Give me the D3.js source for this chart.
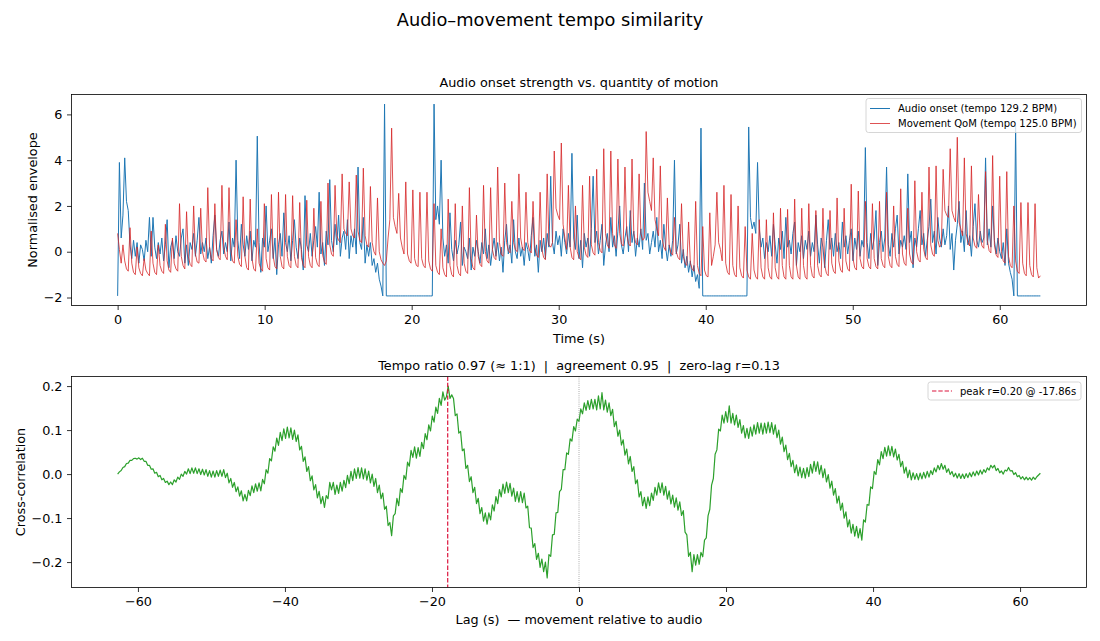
<!DOCTYPE html>
<html><head><meta charset="utf-8">
<script src="https://cdn.jsdelivr.net/npm/d3@7"></script>
<style>body{margin:0;background:#fff;} svg{display:block;font-family:"DejaVu Sans",sans-serif;}</style>
</head><body><svg id="c" width="1100" height="641"></svg>
<script>
// ---------------- data ----------------
const clipDuration = 62.76;   // seconds
const audioTempo = 129.2, movementTempo = 125.0;
const agreement = 0.95, zeroLagR = 0.13;
const peakLag = -17.86, peakR = 0.20;

const audioOnset = [
-1.93,3.9,0.6,1.6,4.1,2.2,1.8,0.3,-0.3,0.5,
-0.2,0.4,-0.5,0.3,0.1,-0.4,0.5,0.0,1.5,-0.2,
1.5,0.2,-0.3,0.4,-0.1,0.6,-0.4,0.3,1.4,-0.7,
0.2,0.5,-0.3,0.7,0.0,-0.2,0.6,1.0,-0.5,0.3,
-0.6,0.4,0.1,0.8,-0.2,0.5,1.5,-0.1,0.4,0.0,
0.6,-0.3,0.2,-0.5,0.7,1.6,0.1,-0.2,0.5,0.9,
-0.1,0.4,0.0,1.3,-0.4,0.6,0.2,4.0,0.5,-0.3,
1.2,0.3,-0.2,0.7,0.1,0.9,-0.4,0.5,0.2,5.05,
0.4,-0.9,0.6,0.2,2.0,0.0,0.5,1.0,-0.3,0.6,
-1.0,0.3,0.8,-0.2,1.7,0.4,0.0,0.7,-0.4,0.5,
1.4,0.2,-0.3,0.6,0.1,-0.8,2.45,0.3,0.0,0.8,
-0.2,0.5,1.1,0.2,2.6,-0.1,0.4,-0.6,0.9,0.3,
3.15,0.5,0.0,1.2,0.3,1.6,-0.2,0.6,0.9,0.1,
1.4,-0.3,0.7,0.2,1.0,-0.1,3.7,0.4,0.1,1.5,
-0.5,0.3,-0.2,0.4,-0.6,-0.3,-0.9,-0.5,-1.2,-1.5,
-1.93,6.45,-1.93,-1.93,-1.93,-1.93,-1.93,-1.93,-1.93,-1.93,
-1.93,-1.93,-1.93,-1.93,-1.93,-1.93,-1.93,-1.93,-1.93,-1.93,
-1.93,-1.93,-1.93,-1.93,-1.93,-1.93,-1.93,-1.93,-1.93,6.45,
1.4,2.0,1.2,4.0,0.6,-0.2,0.3,-0.5,1.7,0.1,
-0.4,0.5,-0.1,0.3,1.3,-0.6,0.2,0.0,-0.3,0.6,
-0.8,0.2,-0.2,0.5,0.0,-0.5,0.4,-0.1,1.0,-0.3,
0.3,-0.6,0.1,0.6,-0.2,0.4,-0.4,0.2,-0.9,0.5,
1.2,-0.1,0.3,-0.5,1.4,0.0,-0.3,0.6,-0.2,0.2,
-0.6,0.4,0.1,-0.4,0.7,1.5,-0.2,0.3,-0.9,0.5,
0.0,0.6,-0.3,0.8,0.2,3.3,0.4,-0.1,0.9,0.3,
0.7,-0.2,1.0,0.4,-0.1,0.8,0.2,4.3,0.6,0.1,
1.6,-0.3,0.5,-0.7,0.8,0.2,0.6,-0.2,1.0,3.3,
0.4,0.9,-0.1,0.5,1.2,-0.6,0.3,0.8,0.0,1.5,
0.2,0.7,-0.2,0.9,2.0,0.3,-0.1,0.6,1.1,0.0,
1.8,0.4,0.9,-0.2,0.6,0.2,1.0,0.1,3.0,0.5,
0.8,-0.1,0.4,0.9,0.2,1.5,0.0,0.5,-0.3,1.2,
0.2,-0.4,0.3,-0.2,0.5,4.0,-0.1,0.3,1.2,-0.5,
0.1,-0.7,-0.2,-0.9,-0.4,-1.1,-0.6,-1.3,-1.0,-1.6,
5.4,-1.93,-1.93,-1.93,-1.93,-1.93,-1.93,-1.93,-1.93,-1.93,
-1.93,-1.93,-1.93,-1.93,-1.93,-1.93,-1.93,-1.93,-1.93,-1.93,
-1.93,-1.93,-1.93,-1.93,-1.93,-1.93,-1.93,5.45,1.5,1.0,
1.3,0.8,3.9,1.0,0.2,0.6,-0.3,0.4,0.0,0.7,
-0.2,1.2,0.3,-0.5,0.6,0.1,0.9,-0.3,1.5,0.2,
0.5,-0.1,0.8,1.3,-0.6,0.4,0.0,0.7,-0.3,0.5,
0.1,0.9,-0.2,0.4,0.0,1.6,0.3,-0.5,0.6,0.2,
-0.7,0.5,1.4,0.1,0.6,-0.2,0.8,0.0,0.4,-0.3,
1.3,0.2,0.7,-0.1,0.5,1.0,-0.4,0.6,0.1,0.9,
-0.2,0.5,0.2,4.55,0.4,-0.3,0.8,0.1,0.6,1.8,
-0.6,0.4,0.9,0.0,0.6,3.7,0.3,-0.2,0.8,0.2,
1.0,1.6,-0.1,0.5,0.2,0.7,0.1,3.4,0.4,0.9,
-0.7,0.6,0.2,1.0,1.8,0.3,0.8,-0.2,0.5,1.1,
2.3,0.4,0.9,-0.1,1.5,0.6,0.2,1.0,0.3,0.7,
2.0,0.1,0.8,-0.8,0.5,1.2,2.2,0.4,0.9,0.0,
1.8,0.3,0.7,-0.2,1.1,2.1,0.5,0.2,0.9,0.4,
0.6,4.1,0.3,1.0,0.2,2.0,0.5,-0.1,0.6,0.0,
-0.3,0.4,-0.6,1.0,-0.5,-0.9,-1.2,-1.93,5.5,-1.93,
-1.93,-1.93,-1.93,-1.93,-1.93,-1.93,-1.93,-1.93,-1.93,-1.93,
-1.93,-1.93,-1.93
];

const movementQoM = [
0.8,0.1,-0.5,0.3, -0.4,-0.75,-0.85,1.05,
-0.5,-0.9,-1.0,0.2, -0.7,-0.95,-1.05,-0.3,
-0.8,-0.95,-1.05,0.9, -0.5,-0.9,-1.0,0.3,
-0.6,-0.85,-0.95,1.2, -0.4,-0.8,-0.9,0.6,
-0.5,-0.75,-0.85,2.1, -0.2,-0.6,-0.75,1.75,
-0.2,-0.55,-0.65,2.0, -0.1,-0.45,-0.5,1.9,
0.0,-0.35,-0.45,2.8, 0.2,-0.3,-0.4,2.1,
0.1,-0.25,-0.35,2.9, 0.2,-0.2,-0.35,2.8,
0.1,-0.4,-0.5,1.4, -0.2,-0.55,-0.65,2.4,
-0.2,-0.7,-0.8,2.3, -0.3,-0.75,-0.85,1.0,
-0.5,-0.75,-0.85,2.1, -0.3,-0.7,-0.8,2.5,
-0.2,-0.65,-0.75,2.6, -0.2,-0.65,-0.75,2.5,
-0.2,-0.6,-0.7,2.45, -0.2,-0.6,-0.7,2.15,
-0.25,-0.6,-0.7,2.25, -0.2,-0.6,-0.7,1.9,
-0.25,-0.55,-0.65,2.2, -0.15,-0.45,-0.55,3.0,
0.3,-0.1,-0.2,2.9, 0.7,0.5,0.4,3.4,
1.0,0.8,0.7,3.05, 1.0,0.7,0.6,3.35,
0.9,0.5,0.4,3.65, 0.7,0.3,0.2,2.85,
0.4,0.0,-0.15,2.35, 0.0,-0.35,-0.5,-0.6,
-0.4,0.6,1.4,5.4, 1.5,1.1,0.8,2.55,
0.6,0.2,-0.1,3.05, -0.1,-0.4,-0.5,2.7,
-0.3,-0.6,-0.65,2.6, -0.3,-0.6,-0.7,2.6,
-0.4,-0.75,-0.85,2.1, -0.6,-0.9,-1.0,1.0,
-0.7,-1.0,-1.1,2.3, -0.6,-1.0,-1.1,2.1,
-0.6,-0.95,-1.05,2.0, -0.5,-0.85,-0.95,2.8,
-0.3,-0.7,-0.8,1.6, -0.2,-0.55,-0.65,2.9,
0.0,-0.4,-0.5,2.8, 0.1,-0.25,-0.35,3.7,
0.4,-0.1,-0.2,3.0, 0.4,0.05,-0.05,2.2,
0.4,0.1,0.0,3.4, 0.6,0.15,0.05,2.6,
0.4,0.05,-0.05,2.2, 0.2,-0.15,-0.25,2.6,
0.1,-0.25,-0.35,3.4, 0.3,0.2,0.4,4.4,
1.9,1.6,1.4,4.75, 1.2,0.6,0.1,2.9,
0.2,-0.25,-0.35,2.0, 0.0,-0.25,-0.35,2.9,
0.2,-0.15,-0.25,3.3, 0.3,-0.05,-0.15,3.6,
0.4,0.05,-0.05,4.5, 0.8,0.3,0.15,4.4,
0.8,0.3,0.15,4.05, 0.8,0.35,0.25,3.7,
0.8,0.35,0.25,4.05, 0.8,0.4,0.3,3.4,
0.8,0.5,0.6,5.25, 2.6,2.2,1.8,4.1,
1.4,1.0,0.7,3.75, 0.6,0.2,0.05,2.35,
0.3,-0.05,-0.15,1.5, 0.0,-0.25,-0.35,2.1,
-0.2,-0.5,-0.6,1.3, -0.5,-0.75,-0.85,2.2,
-0.6,-0.95,-1.05,1.1, -0.8,-1.05,-1.1,1.7,
-0.6,-0.2,0.3,2.6, 0.4,0.1,-0.4,2.9,
-0.5,-0.9,-1.0,2.5, -0.6,-1.0,-1.1,2.0,
-0.7,-1.05,-1.15,1.1, -0.8,-1.1,-1.2,0.8,
-0.8,-1.1,-1.2,1.4, -0.7,-1.1,-1.2,1.4,
-0.7,-1.1,-1.2,1.7, -0.7,-1.1,-1.2,1.9,
-0.6,-1.1,-1.2,1.85, -0.6,-1.1,-1.2,2.3,
-0.6,-1.1,-1.2,1.9, -0.6,-1.1,-1.2,2.1,
-0.6,-1.05,-1.15,1.8, -0.6,-1.0,-1.1,1.9,
-0.6,-0.95,-1.05,1.8, -0.5,-0.85,-0.95,2.35,
-0.4,-0.8,-0.9,1.9, -0.4,-0.75,-0.85,2.95,
-0.3,-0.7,-0.8,2.65, -0.3,-0.65,-0.75,2.2,
-0.3,-0.65,-0.75,2.1, -0.3,-0.65,-0.75,2.2,
-0.3,-0.6,-0.7,2.6, -0.2,-0.6,-0.7,2.0,
-0.2,-0.55,-0.65,2.75, -0.1,-0.5,-0.6,1.9,
-0.1,-0.45,-0.55,3.1, 0.0,-0.35,-0.45,2.6,
0.1,-0.25,-0.35,3.7, 0.3,-0.1,-0.2,3.75,
0.5,0.2,0.3,3.6, 1.8,1.6,1.5,4.5,
1.8,1.5,1.3,5.0, 1.3,1.0,0.7,4.1,
0.8,0.4,0.25,3.75, 0.6,0.25,0.15,2.5,
0.6,0.25,0.15,3.5, 0.5,0.05,-0.05,4.2,
0.3,-0.15,-0.25,3.3, 0.0,-0.4,-0.5,3.5,
-0.2,-0.6,-0.7,2.0, -0.4,-0.85,-0.95,2.15,
-0.5,-0.95,-1.05,2.15, -0.6,-1.0,-1.1,2.1,
-0.7,-1.15,-1.05
];

const maxLag = 62.76;  // seconds, symmetric lag range
const crossCorr = [
0.000,0.005,0.008,0.015,0.017,0.024,0.025,0.031,0.031,0.035,
0.036,0.034,0.037,0.033,0.036,0.029,0.029,0.020,0.020,0.011,
0.012,0.002,0.004,-0.006,-0.003,-0.013,-0.010,-0.019,-0.016,-0.024,
-0.018,-0.024,-0.013,-0.018,-0.007,-0.012,0.000,-0.005,0.006,0.000,
0.012,0.001,0.014,0.002,0.014,0.001,0.012,-0.001,0.011,-0.002,
0.010,-0.005,0.008,-0.007,0.007,-0.007,0.008,-0.005,0.009,-0.005,
0.010,-0.008,0.002,-0.020,-0.010,-0.030,-0.019,-0.040,-0.029,-0.050,
-0.038,-0.061,-0.046,-0.061,-0.037,-0.049,-0.027,-0.042,-0.022,-0.039,
-0.020,-0.038,-0.012,-0.022,0.010,0.002,0.035,0.030,0.062,0.052,
0.082,0.065,0.095,0.076,0.103,0.081,0.107,0.082,0.105,0.079,
0.100,0.074,0.089,0.055,0.063,0.029,0.039,0.006,0.017,-0.015,
-0.004,-0.036,-0.024,-0.054,-0.039,-0.067,-0.051,-0.076,-0.049,-0.056,
-0.019,-0.036,-0.019,-0.046,-0.025,-0.044,-0.019,-0.039,-0.014,-0.031,
-0.003,-0.022,0.006,-0.015,0.012,-0.010,0.015,-0.009,0.014,-0.011,
0.012,-0.014,0.007,-0.020,0.000,-0.028,-0.010,-0.042,-0.025,-0.056,
-0.043,-0.080,-0.073,-0.117,-0.110,-0.140,-0.095,-0.090,-0.055,-0.072,
-0.033,-0.042,-0.003,-0.012,0.027,0.018,0.054,0.038,0.062,0.036,
0.060,0.040,0.072,0.058,0.092,0.078,0.112,0.098,0.132,0.118,
0.152,0.138,0.172,0.156,0.187,0.168,0.176,0.200,0.172,0.180,
0.172,0.133,0.137,0.093,0.097,0.053,0.057,0.013,0.020,-0.017,
-0.006,-0.042,-0.030,-0.067,-0.055,-0.090,-0.076,-0.107,-0.088,-0.114,
-0.088,-0.104,-0.070,-0.084,-0.051,-0.067,-0.035,-0.052,-0.023,-0.044,
-0.018,-0.042,-0.021,-0.050,-0.032,-0.062,-0.040,-0.064,-0.040,-0.065,
-0.043,-0.077,-0.073,-0.122,-0.123,-0.167,-0.158,-0.194,-0.180,-0.212,
-0.193,-0.222,-0.200,-0.236,-0.183,-0.187,-0.138,-0.137,-0.088,-0.087,
-0.040,-0.035,0.010,0.010,0.048,0.045,0.080,0.075,0.108,0.098,
0.125,0.120,0.148,0.137,0.162,0.145,0.167,0.147,0.170,0.148,
0.170,0.146,0.178,0.148,0.185,0.146,0.168,0.141,0.162,0.133,
0.147,0.108,0.120,0.086,0.100,0.066,0.078,0.043,0.057,0.023,
0.040,0.006,0.017,-0.022,-0.013,-0.052,-0.040,-0.072,-0.053,-0.078,
-0.052,-0.072,-0.043,-0.060,-0.030,-0.048,-0.020,-0.042,-0.020,-0.048,
-0.028,-0.057,-0.038,-0.068,-0.048,-0.075,-0.054,-0.082,-0.063,-0.094,
-0.083,-0.132,-0.138,-0.187,-0.178,-0.222,-0.183,-0.207,-0.183,-0.205,
-0.178,-0.188,-0.150,-0.145,-0.095,-0.080,-0.025,-0.010,0.045,0.055,
0.102,0.098,0.134,0.116,0.142,0.118,0.155,0.116,0.138,0.112,
0.134,0.106,0.124,0.093,0.110,0.082,0.104,0.081,0.107,0.086,
0.112,0.091,0.117,0.093,0.116,0.091,0.116,0.093,0.118,0.094,
0.117,0.091,0.112,0.083,0.100,0.068,0.084,0.051,0.066,0.033,
0.047,0.017,0.031,0.003,0.021,-0.004,0.016,-0.008,0.013,-0.009,
0.015,-0.006,0.022,0.002,0.029,0.006,0.028,0.000,0.020,-0.008,
0.012,-0.018,-0.001,-0.032,-0.016,-0.048,-0.033,-0.066,-0.050,-0.082,
-0.066,-0.100,-0.086,-0.120,-0.104,-0.134,-0.114,-0.141,-0.119,-0.145,
-0.124,-0.150,-0.104,-0.109,-0.069,-0.071,-0.029,-0.033,0.006,-0.001,
0.033,0.021,0.051,0.035,0.061,0.041,0.064,0.042,0.063,0.039,
0.057,0.032,0.045,0.017,0.029,0.002,0.016,-0.008,0.009,-0.013,
0.003,-0.012,0.001,-0.013,0.002,-0.011,0.004,-0.009,0.006,-0.007,
0.008,-0.001,0.014,0.005,0.020,0.010,0.024,0.011,0.020,0.004,
0.012,-0.001,0.006,-0.006,0.002,-0.009,0.001,-0.010,0.000,-0.010,
0.001,-0.008,0.003,-0.006,0.005,-0.004,0.007,-0.002,0.009,0.000,
0.010,0.004,0.014,0.009,0.020,0.014,0.020,0.008,0.013,0.003,
0.007,0.000,0.009,0.007,0.015,0.007,0.008,-0.001,0.003,-0.006,
-0.003,-0.011,-0.006,-0.013,-0.007,-0.013,-0.008,-0.014,-0.007,-0.012,
-0.006,-0.002,0.002
];

const timeTicks = [0,10,20,30,40,50,60];
const envTicks = [-2,0,2,4,6];
const lagTicks = [-60,-40,-20,0,20,40,60];
const corrTicks = [-0.2,-0.1,0.0,0.1,0.2];

// ---------------- drawing ----------------
const svg = d3.select('#c');
const FONT = '"DejaVu Sans", sans-serif';
const FS = 12.8;
const L = 71.5, R = 1086.5;
const P1 = {t:94.5, b:305.5}, P2 = {t:376.5, b:587.5};
const pad = (lo, hi) => { const p = (hi - lo) * 0.05; return [lo - p, hi + p]; };

const tStep = clipDuration / (audioOnset.length - 1);
const audioPts = audioOnset.map((v, i) => [i * tStep, v]);
const qStep = clipDuration / (movementQoM.length - 1);
const qomPts = movementQoM.map((v, i) => [i * qStep, v]);
const lStep = 2 * maxLag / (crossCorr.length - 1);
const corrPts = crossCorr.map((v, i) => [-maxLag + i * lStep, v]);

const allEnv = audioOnset.concat(movementQoM);
const x1 = d3.scaleLinear().domain(pad(0, clipDuration)).range([L, R]);
const y1 = d3.scaleLinear().domain(pad(d3.min(allEnv), d3.max(allEnv))).range([P1.b, P1.t]);
const x2 = d3.scaleLinear().domain(pad(-maxLag, maxLag)).range([L, R]);
const y2 = d3.scaleLinear().domain(pad(d3.min(crossCorr), d3.max(crossCorr))).range([P2.b, P2.t]);

const defs = svg.append('defs');
[['clip1', P1], ['clip2', P2]].forEach(([id, P]) => {
  defs.append('clipPath').attr('id', id).append('rect')
    .attr('x', L).attr('y', P.t).attr('width', R - L).attr('height', P.b - P.t);
});

function axes(x, y, xt, yt, xf, yf, P) {
  const gx = svg.append('g').attr('transform', `translate(0,${P.b})`)
    .call(d3.axisBottom(x).tickValues(xt).tickFormat(xf).tickSize(4.5).tickPadding(4.5).tickSizeOuter(0));
  const gy = svg.append('g').attr('transform', `translate(${L},0)`)
    .call(d3.axisLeft(y).tickValues(yt).tickFormat(yf).tickSize(4.5).tickPadding(4.5).tickSizeOuter(0));
  [gx, gy].forEach(g => {
    g.attr('font-size', FS).attr('font-family', FONT);
    g.select('.domain').remove();
    g.selectAll('line').attr('stroke', '#000').attr('stroke-width', 0.8);
    g.selectAll('text').attr('fill', '#000');
  });
  svg.append('rect').attr('x', L).attr('y', P.t).attr('width', R - L).attr('height', P.b - P.t)
    .attr('fill', 'none').attr('stroke', '#000').attr('stroke-width', 0.8);
}

// Figure title
svg.append('text').attr('x', 550).attr('y', 26).attr('text-anchor', 'middle')
  .attr('font-size', 17.8).attr('font-family', FONT).text('Audio–movement tempo similarity');

// ---- top panel ----
const line1 = d3.line().x(d => x1(d[0])).y(d => y1(d[1]));
const g1 = svg.append('g').attr('clip-path', 'url(#clip1)');
g1.append('path').datum(audioPts).attr('d', line1).attr('fill', 'none')
  .attr('stroke', '#1f77b4').attr('stroke-width', 1.0).attr('stroke-linejoin', 'round');
g1.append('path').datum(qomPts).attr('d', line1).attr('fill', 'none')
  .attr('stroke', '#d62728').attr('stroke-opacity', 0.8).attr('stroke-width', 1.0).attr('stroke-linejoin', 'round');
axes(x1, y1, timeTicks, envTicks, d3.format('d'), d3.format('d'), P1);

svg.append('text').attr('x', (L + R) / 2).attr('y', 87).attr('text-anchor', 'middle')
  .attr('font-size', FS).attr('font-family', FONT).text('Audio onset strength vs. quantity of motion');
svg.append('text').attr('x', (L + R) / 2).attr('y', 342.5).attr('text-anchor', 'middle')
  .attr('font-size', FS).attr('font-family', FONT).text('Time (s)');
svg.append('text').attr('transform', `translate(32,${(P1.t + P1.b) / 2}) rotate(-90)`)
  .attr('text-anchor', 'middle').attr('dominant-baseline', 'central')
  .attr('font-size', FS).attr('font-family', FONT).text('Normalised envelope');

// legend top
const lg1 = svg.append('g');
lg1.append('rect').attr('x', 866).attr('y', 98.5).attr('width', 215.5).attr('height', 34).attr('rx', 2.5)
  .attr('fill', '#fff').attr('fill-opacity', 0.8).attr('stroke', '#ccc').attr('stroke-width', 0.8);
const legItems1 = [
  {label: `Audio onset (tempo ${audioTempo.toFixed(1)} BPM)`, color: '#1f77b4', op: 1},
  {label: `Movement QoM (tempo ${movementTempo.toFixed(1)} BPM)`, color: '#d62728', op: 0.8}
];
legItems1.forEach((d, i) => {
  const yy = 108.5 + i * 15;
  lg1.append('line').attr('x1', 870).attr('x2', 890).attr('y1', yy).attr('y2', yy)
    .attr('stroke', d.color).attr('stroke-opacity', d.op).attr('stroke-width', 1.0);
  lg1.append('text').attr('x', 898).attr('y', yy).attr('dominant-baseline', 'central')
    .attr('font-size', 10).attr('font-family', FONT).text(d.label);
});

// ---- bottom panel ----
const line2 = d3.line().x(d => x2(d[0])).y(d => y2(d[1]));
const g2 = svg.append('g').attr('clip-path', 'url(#clip2)');
g2.append('path').datum(corrPts).attr('d', line2).attr('fill', 'none')
  .attr('stroke', '#2ca02c').attr('stroke-width', 1.2).attr('stroke-linejoin', 'round');
g2.append('line').attr('x1', x2(0)).attr('x2', x2(0)).attr('y1', P2.t).attr('y2', P2.b)
  .attr('stroke', 'gray').attr('stroke-width', 0.8).attr('stroke-dasharray', '0.8,1.3');
g2.append('line').attr('x1', x2(peakLag)).attr('x2', x2(peakLag)).attr('y1', P2.t).attr('y2', P2.b)
  .attr('stroke', 'crimson').attr('stroke-width', 1.2).attr('stroke-dasharray', '4.4,1.9');
axes(x2, y2, lagTicks, corrTicks, d3.format('d'), d3.format('.1f'), P2);

const ratio = movementTempo / audioTempo;
svg.append('text').attr('x', (L + R) / 2).attr('y', 369.5).attr('text-anchor', 'middle')
  .style('white-space', 'pre').attr('font-size', FS).attr('font-family', FONT)
  .text(`Tempo ratio ${ratio.toFixed(2)} (≈ 1:1)  |  agreement ${agreement.toFixed(2)}  |  zero-lag r=${zeroLagR.toFixed(2)}`);
svg.append('text').attr('x', (L + R) / 2).attr('y', 623.5).attr('text-anchor', 'middle')
  .style('white-space', 'pre').attr('font-size', FS).attr('font-family', FONT)
  .text('Lag (s)  — movement relative to audio');
svg.append('text').attr('transform', `translate(20,${(P2.t + P2.b) / 2}) rotate(-90)`)
  .attr('text-anchor', 'middle').attr('dominant-baseline', 'central')
  .attr('font-size', FS).attr('font-family', FONT).text('Cross-correlation');

// legend bottom
const lg2 = svg.append('g');
lg2.append('rect').attr('x', 928).attr('y', 382).attr('width', 153).attr('height', 18).attr('rx', 2.5)
  .attr('fill', '#fff').attr('fill-opacity', 0.8).attr('stroke', '#ccc').attr('stroke-width', 0.8);
lg2.append('line').attr('x1', 932).attr('x2', 952).attr('y1', 391).attr('y2', 391)
  .attr('stroke', 'crimson').attr('stroke-width', 1.2).attr('stroke-dasharray', '4.4,1.9');
lg2.append('text').attr('x', 960).attr('y', 391).attr('dominant-baseline', 'central')
  .attr('font-size', 10).attr('font-family', FONT).text(`peak r=${peakR.toFixed(2)} @ ${peakLag.toFixed(2)}s`);
</script></body></html>
